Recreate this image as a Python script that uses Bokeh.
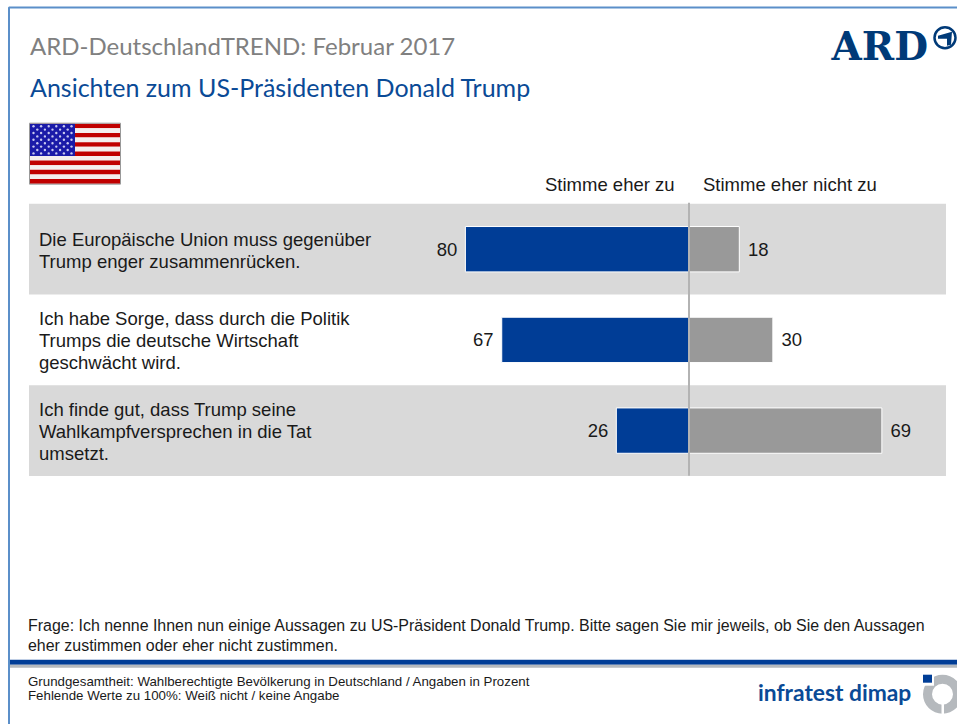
from bokeh.embed import file_html
from bokeh.resources import INLINE
from bokeh.plotting import figure
from bokeh.models import Range1d
from bokeh.core.properties import value

statements = [
    ["Die Europäische Union muss gegenüber", "Trump enger zusammenrücken."],
    ["Ich habe Sorge, dass durch die Politik", "Trumps die deutsche Wirtschaft", "geschwächt wird."],
    ["Ich finde gut, dass Trump seine", "Wahlkampfversprechen in die Tat", "umsetzt."],
]
agree = [80, 67, 26]
disagree = [18, 30, 69]
rows = [0, 1, 2]
band_rows = [0, 2]
headers = ["Stimme eher zu", "Stimme eher nicht zu"]

title_top = "ARD-DeutschlandTREND: Februar 2017"
title_sub = "Ansichten zum US-Präsidenten Donald Trump"
question = [
    "Frage: Ich nenne Ihnen nun einige Aussagen zu US-Präsident Donald Trump. Bitte sagen Sie mir jeweils, ob Sie den Aussagen",
    "eher zustimmen oder eher nicht zustimmen.",
]
footnote = [
    "Grundgesamtheit: Wahlberechtigte Bevölkerung in Deutschland / Angaben in Prozent",
    "Fehlende Werte zu 100%: Weiß nicht / keine Angabe",
]

W, H = 957, 724
SHIFT_X, SHIFT_Y = 0.5, 0.8
ZERO_PX, PX_PER_PCT = 689.0, 2.795
ROW0_PX, PX_PER_ROW = 249.5, 90.7

BLUE = "#003d96"
GREY = "#999999"
BAND = "#d9d9d9"
SANS = value("Liberation Sans")
TITLE_FONT = value("Lato")

p = figure(
    width=W, height=H, output_backend="svg", toolbar_location=None,
    x_range=Range1d((SHIFT_X - ZERO_PX) / PX_PER_PCT, (W + SHIFT_X - ZERO_PX) / PX_PER_PCT),
    y_range=Range1d((H + SHIFT_Y - ROW0_PX) / PX_PER_ROW, (SHIFT_Y - ROW0_PX) / PX_PER_ROW),
    min_border=0, outline_line_color=None, background_fill_color="white",
)
p.extra_x_ranges["px"] = Range1d(SHIFT_X, W + SHIFT_X)
p.extra_y_ranges["px"] = Range1d(H + SHIFT_Y, SHIFT_Y)
p.xaxis.visible = False
p.yaxis.visible = False
p.grid.visible = False
PX = dict(x_range_name="px", y_range_name="px")


def label(x, y, text, size, color="#1a1a1a", font=SANS, align="left", style="normal"):
    p.text([x], [y], text=[text], text_font=font, text_font_size=f"{size}px",
           text_color=color, text_align=align, text_baseline="middle",
           text_font_style=style, **PX)


# Slide frame
p.line([9, 9, W + 2], [H + 2, 7.7, 7.7], line_color="#5b8fc9", line_width=2, **PX)

# Headline block
label(30, 46, title_top, 24, color="#808080", font=TITLE_FONT)
label(30, 87, title_sub, 25, color="#0a4a96", font=TITLE_FONT)

# ARD word mark with the round "1" emblem
label(831.5, 46, "ARD", 39, color="#003a78", font=value("DejaVu Serif"), style="bold")
p.circle([945], [38], radius=10.5, fill_color="white", line_color="#003a78", line_width=2.5, **PX)
p.patch([938, 952, 951, 947, 947, 938], [36, 32, 45, 46, 39, 39],
        fill_color="#003a78", line_color=None, **PX)

# US flag
stripe_h = 60 / 13
for i in range(13):
    p.quad(left=[30], right=[120.5], top=[124 + i * stripe_h], bottom=[124 + (i + 1) * stripe_h],
           fill_color="#c00000" if i % 2 == 0 else "#f4eeee", line_color=None, **PX)
p.quad(left=[30], right=[75], top=[124], bottom=[156.3], fill_color="#1a1aa8", line_color=None, **PX)
star_x, star_y = [], []
for r in range(9):
    n = 6 if r % 2 == 0 else 5
    x0 = 33.5 if r % 2 == 0 else 37.3
    for c in range(n):
        star_x.append(x0 + c * 7.6)
        star_y.append(126.5 + r * 3.4)
p.scatter(star_x, star_y, marker="circle", size=2.4, fill_color="#c8c8f0", line_color=None, **PX)
p.quad(left=[29.5], right=[120.5], top=[123.5], bottom=[184.5], fill_color=None,
       line_color="#999999", line_width=1, **PX)

# Row bands behind the statements
p.quad(left=[29] * len(band_rows), right=[946] * len(band_rows),
       top=[ROW0_PX + (r - 0.5) * PX_PER_ROW for r in band_rows],
       bottom=[ROW0_PX + (r + 0.5) * PX_PER_ROW for r in band_rows],
       fill_color=BAND, line_color=None, **PX)

# Diverging bars
p.hbar(y=rows, left=[-v for v in agree], right=[0] * 3, height=0.5,
       fill_color=BLUE, line_color="white", line_width=1)
p.hbar(y=rows, left=[0] * 3, right=disagree, height=0.5,
       fill_color=GREY, line_color="white", line_width=1)
p.line([689, 689], [203, 476], line_color="#b3b3b3", line_width=2, **PX)

# Bar values
p.text([-v - 2.9 for v in agree], rows, text=[str(v) for v in agree], text_font=SANS,
       text_font_size="18.5px", text_color="#1a1a1a", text_align="right", text_baseline="middle")
p.text([v + 3.1 for v in disagree], rows, text=[str(v) for v in disagree], text_font=SANS,
       text_font_size="18.5px", text_color="#1a1a1a", text_align="left", text_baseline="middle")

# Column headers
label(545, 185, headers[0], 18.5)
label(703, 185, headers[1], 18.5)

# Statement labels
for r, lines in zip(rows, statements):
    centre = ROW0_PX + r * PX_PER_ROW
    start = centre - (len(lines) - 1) * 22 / 2 + 1
    for k, line in enumerate(lines):
        label(39, start + k * 22, line, 18.5)

# Question wording
label(28, 626, question[0], 15.95)
label(28, 645.5, question[1], 15.95)

# Footer rules
p.quad(left=[10], right=[W + 2], top=[660], bottom=[665], fill_color="#003d96", line_color=None, **PX)
p.quad(left=[10], right=[W + 2], top=[665], bottom=[668], fill_color="#b5b9bd", line_color=None, **PX)

# Sample note
label(28, 682, footnote[0], 13.3)
label(28, 695.5, footnote[1], 13.3)

# Institute word mark and emblem
label(758, 692, "infratest dimap", 22.8, color="#0a4a96", font=TITLE_FONT, style="bold")
p.annulus([942.5], [694.5], inner_radius=10.5, outer_radius=19.5,
          fill_color="#b5b9bd", line_color=None, **PX)
p.quad(left=[921], right=[934], top=[673], bottom=[686], fill_color="white", line_color=None, **PX)
p.quad(left=[941.5], right=[944], top=[703], bottom=[716], fill_color="white", line_color=None, **PX)
p.quad(left=[923], right=[932], top=[675], bottom=[683], fill_color="#003d96", line_color=None, **PX)

open("out.html", "w").write(file_html(p, INLINE))
